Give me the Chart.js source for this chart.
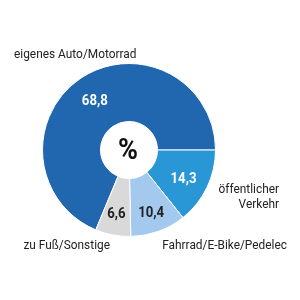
<!DOCTYPE html>
<html><head><meta charset="utf-8">
<script src="https://cdn.jsdelivr.net/npm/chart.js@4.4.1/dist/chart.umd.min.js"></script>
<style>html,body{margin:0;padding:0;background:#fff}#wrap{width:300px;height:300px}</style>
</head><body><div id="wrap"><canvas id="c" width="300" height="300"></canvas></div>
<script>
const categories = ["eigenes Auto/Motorrad", "öffentlicher Verkehr", "Fahrrad/E-Bike/Pedelec", "zu Fuß/Sonstige"];
const values = [68.8, 14.3, 10.4, 6.6];
const valueLabels = ["68,8", "14,3", "10,4", "6,6"];
const colors = ["#2167b0", "#2997d6", "#a3c9ee", "#d9d9d9"];
const valueColors = ["#ffffff", "#ffffff", "#222222", "#222222"];
const centerLabel = "%";

const FONT = "Roboto, 'Noto Sans', sans-serif";
function condText(ctx, txt, x, y, font, color, align, sx) {
  ctx.save();
  ctx.font = font; ctx.fillStyle = color; ctx.textBaseline = "middle";
  ctx.translate(x, y); ctx.scale(sx, 1);
  ctx.textAlign = align;
  ctx.fillText(txt, 0, 0);
  ctx.restore();
}
const labelPlugin = {
  id: "labels",
  afterDatasetsDraw(chart) {
    const ctx = chart.ctx;
    const meta = chart.getDatasetMeta(0);
    const radFactor = [0.54, 0.578, 0.672, 0.634];
    const angShift = [-0.02, 0.049, 0.012, 0.007];
    meta.data.forEach((arc, i) => {
      const p = arc.getProps(["x","y","startAngle","endAngle","innerRadius","outerRadius"], true);
      const a = (p.startAngle + p.endAngle) / 2 + angShift[i];
      const r = p.innerRadius + (p.outerRadius - p.innerRadius) * radFactor[i];
      condText(ctx, valueLabels[i], p.x + Math.cos(a) * r, p.y + Math.sin(a) * r,
        "bold 15px " + FONT, valueColors[i], "center", 0.88);
    });
    const c = meta.data[0];
    condText(ctx, centerLabel, c.x - 1, c.y + 1, "bold 30px " + FONT, "#111", "center", 0.9);
    const f = "13.5px " + FONT, col = "#222";
    condText(ctx, categories[0], 14, 55, f, col, "left", 0.88);
    condText(ctx, "öffentlicher", 279, 190, f, col, "right", 0.88);
    condText(ctx, "Verkehr", 279, 205, f, col, "right", 0.88);
    condText(ctx, categories[2], 287, 246, f, col, "right", 0.88);
    condText(ctx, categories[3], 110, 246, f, col, "right", 0.88);
  }
};
const total = values.reduce((s, v) => s + v, 0);
new Chart(document.getElementById("c"), {
  type: "doughnut",
  data: { labels: categories, datasets: [{ data: values, backgroundColor: colors, borderColor: "#ffffff", borderWidth: 1 }] },
  options: {
    responsive: false, animation: false,
    rotation: 90 - values[0] / total * 360,
    cutout: "33%",
    layout: { padding: { left: 42, right: 84, top: 63, bottom: 63 } },
    plugins: { legend: { display: false }, tooltip: { enabled: false } }
  },
  plugins: [labelPlugin]
});
</script></body></html>
